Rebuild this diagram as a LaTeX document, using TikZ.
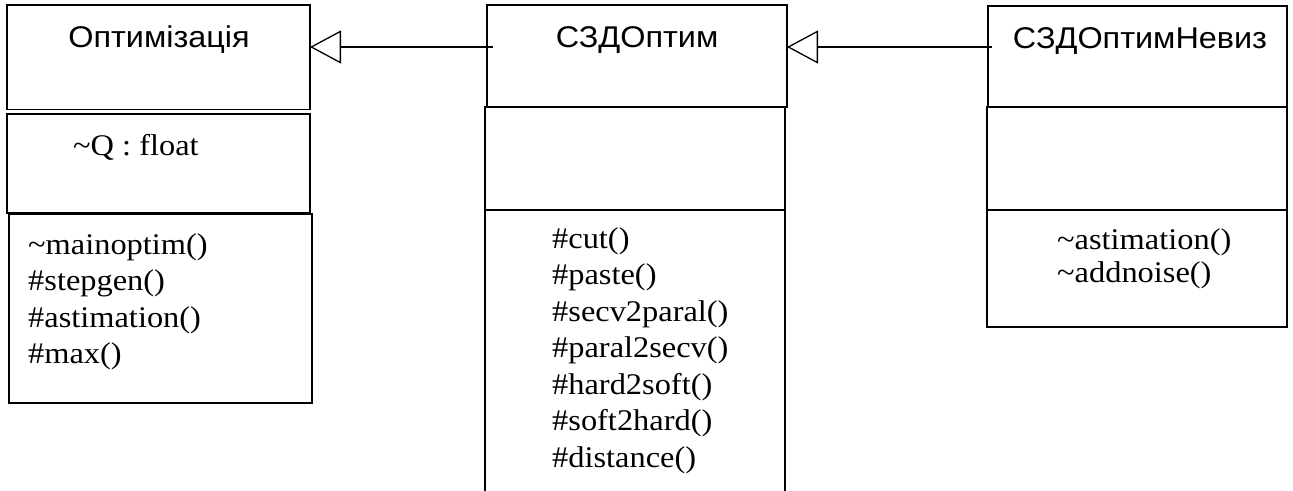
\documentclass[tikz,border=0pt]{standalone}
\usepackage{fontspec}
\setmainfont{Liberation Serif}[FakeStretch=1.08]
\newfontfamily\hdrfont{Liberation Sans}[FakeStretch=1.08]
\usetikzlibrary{arrows.meta}
\tikzset{
  box/.style={draw=black, line width=1.5pt, inner sep=0pt, outer sep=0pt},
  hdr/.style={font=\hdrfont\fontsize{30}{36}\selectfont, inner sep=0pt, anchor=base},
  member/.style={font=\fontsize{30}{36}\selectfont, inner sep=0pt, anchor=base west},
  inherit/.style={line width=1.3pt, -{Triangle[open, length=31pt, width=33pt, line width=1.3pt]}}
}
\begin{document}
\begin{tikzpicture}[x=1pt, y=-1pt]
\useasboundingbox (0,0) rectangle (1293,490);
\clip (0,0) rectangle (1293,490);
% left class
\node[box, minimum width=303pt, minimum height=104.5pt] (lh) at (158.5,57.25) {};
\node[box, minimum width=303pt, minimum height=99pt] (la) at (158.5,163.5) {};
\node[box, minimum width=303pt, minimum height=189pt] (lm) at (160.5,308.5) {};
\node[hdr] (lht) at (159,47) {Оптимізація};
\node[member] (lat) at (73,155) {\textasciitilde Q : float};
\node[member] (lm1) at (28,254) {\textasciitilde mainoptim()};
\node[member] (lm2) at (28,290.5) {\#stepgen()};
\node[member] (lm3) at (28,327) {\#astimation()};
\node[member] (lm4) at (28,363.5) {\#max()};
% middle class
\node[box, minimum width=300pt, minimum height=102pt] (mh) at (637,56) {};
\node[box, minimum width=300pt, minimum height=103pt] (ma) at (635,158.5) {};
\node[box, minimum width=300pt, minimum height=320pt] (mm) at (635,370) {};
\node[hdr] (mht) at (637,47) {СЗДОптим};
\node[member] (mm1) at (552,248) {\#cut()};
\node[member] (mm2) at (552,284.5) {\#paste()};
\node[member] (mm3) at (552,321) {\#secv2paral()};
\node[member] (mm4) at (552,357.5) {\#paral2secv()};
\node[member] (mm5) at (552,394) {\#hard2soft()};
\node[member] (mm6) at (552,430.5) {\#soft2hard()};
\node[member] (mm7) at (552,467) {\#distance()};
% right class
\node[box, minimum width=299pt, minimum height=101pt] (rh) at (1137.5,56.5) {};
\node[box, minimum width=300pt, minimum height=103pt] (ra) at (1137,158.5) {};
\node[box, minimum width=300pt, minimum height=117pt] (rm) at (1137,268.5) {};
\node[hdr] (rht) at (1140,48) {СЗДОптимНевиз};
\node[member] (rm1) at (1057,249) {\textasciitilde astimation()};
\node[member] (rm2) at (1057,282) {\textasciitilde addnoise()};
% inheritance arrows
\coordinate (s1) at (493,47);
\coordinate (s2) at (992,47);
\draw[inherit] (s1) -- (s1 -| lh.east);
\draw[inherit] (s2) -- (s2 -| mh.east);
\end{tikzpicture}
\end{document}
